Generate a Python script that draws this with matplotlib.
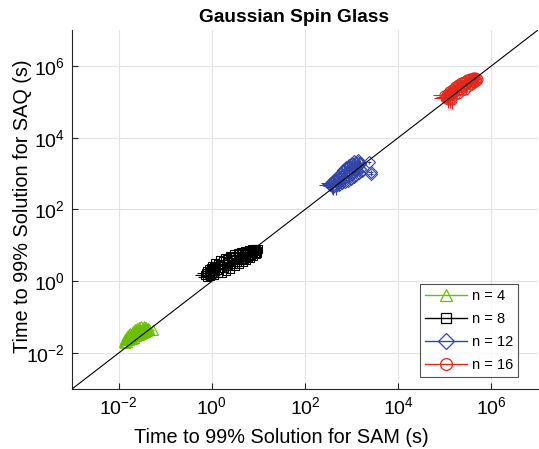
import numpy as np
import matplotlib
matplotlib.use("Agg")
import matplotlib.pyplot as plt
from matplotlib.lines import Line2D
from matplotlib.ticker import NullLocator

plt.rcParams['font.family'] = ['Liberation Sans', 'DejaVu Sans']
plt.rcParams['mathtext.fontset'] = 'custom'
plt.rcParams['mathtext.rm'] = 'Liberation Sans'
plt.rcParams['mathtext.it'] = 'Liberation Sans:italic'
plt.rcParams['mathtext.bf'] = 'Liberation Sans:bold'

# time to 99% solution (s): SAM on x, SAQ on y, one cloud per problem size
# n = 4
x4 = [0.0135, 0.015, 0.0165, 0.018, 0.020, 0.022, 0.025, 0.028, 0.031, 0.035, 0.039,
      0.013, 0.0145, 0.016, 0.018, 0.020, 0.022, 0.025, 0.028, 0.031, 0.035, 0.040, 0.044,
      0.0135, 0.015, 0.017, 0.019, 0.021, 0.024, 0.027, 0.030, 0.033, 0.037, 0.041,
      0.055]
y4 = [0.025, 0.029, 0.033, 0.037, 0.041, 0.046, 0.050, 0.053, 0.056, 0.057, 0.055,
      0.021, 0.024, 0.027, 0.030, 0.033, 0.036, 0.039, 0.042, 0.045, 0.047, 0.048, 0.047,
      0.019, 0.021, 0.023, 0.025, 0.027, 0.029, 0.031, 0.034, 0.036, 0.039, 0.041,
      0.045]
ex4 = 0.05
ey4 = 0.05
x4b = [0.014, 0.0155, 0.017, 0.019, 0.021, 0.0235, 0.0265, 0.0295, 0.033, 0.037, 0.042,
       0.014, 0.0155, 0.0175, 0.0195, 0.0215, 0.0235, 0.026, 0.029, 0.032, 0.036, 0.040]
y4b = [0.023, 0.026, 0.030, 0.033, 0.037, 0.041, 0.045, 0.048, 0.051, 0.052, 0.051,
       0.020, 0.0225, 0.025, 0.0275, 0.030, 0.032, 0.035, 0.038, 0.040, 0.043, 0.045]

# n = 8
x8 = [0.85, 1.0, 1.2, 1.5, 1.9, 2.4, 3.0, 3.6, 4.3, 5.2, 6.2, 7.3, 8.5,
      0.75, 0.9, 1.05, 1.25, 1.5, 1.8, 2.2, 2.7, 3.2, 3.8, 4.5, 5.4, 6.4, 7.6, 9.0, 9.8,
      0.9, 1.1, 1.35, 1.65, 2.0, 2.5, 3.1, 3.8, 4.6, 5.5, 6.5, 7.6, 8.8, 9.5,
      0.72, 0.78]
y8 = [2.2, 2.7, 3.3, 3.8, 4.4, 5.0, 5.6, 6.1, 6.6, 7.0, 7.4, 7.8, 8.0,
      1.7, 1.9, 2.2, 2.5, 2.8, 3.1, 3.5, 3.9, 4.3, 4.7, 5.1, 5.6, 6.1, 6.7, 7.3, 7.9,
      1.4, 1.5, 1.65, 1.75, 1.95, 2.25, 2.6, 3.0, 3.4, 3.8, 4.4, 5.0, 5.6, 6.3,
      1.5, 1.3]
ex8 = [0.10, 0.06, 0.06, 0.06, 0.06, 0.06, 0.06, 0.06, 0.06, 0.06, 0.06, 0.06, 0.06,
       0.35, 0.30, 0.06, 0.06, 0.06, 0.06, 0.06, 0.06, 0.06, 0.06, 0.06, 0.06, 0.06, 0.06, 0.08, 0.08,
       0.30, 0.06, 0.06, 0.06, 0.06, 0.06, 0.06, 0.06, 0.06, 0.06, 0.06, 0.06, 0.06, 0.08,
       0.40, 0.35]
ey8 = [0.06, 0.06, 0.06, 0.06, 0.06, 0.06, 0.06, 0.06, 0.06, 0.06, 0.06, 0.06, 0.06,
       0.08, 0.06, 0.06, 0.06, 0.06, 0.06, 0.06, 0.06, 0.06, 0.06, 0.06, 0.06, 0.06, 0.06, 0.06, 0.06,
       0.10, 0.06, 0.06, 0.06, 0.06, 0.06, 0.06, 0.06, 0.06, 0.06, 0.06, 0.06, 0.06, 0.06,
       0.08, 0.10]
x8b = [0.8, 0.95, 1.1, 1.35, 1.7, 2.1, 2.6, 3.2, 3.9, 4.8, 5.8, 6.9, 8.2,
       0.85, 1.0, 1.2, 1.45, 1.8, 2.2, 2.8, 3.4, 4.2, 5.0, 6.0, 7.1, 8.3, 9.4]
y8b = [1.95, 2.3, 2.7, 3.1, 3.6, 4.1, 4.7, 5.2, 5.7, 6.1, 6.6, 7.1, 7.6,
       1.55, 1.7, 1.9, 2.1, 2.35, 2.65, 3.0, 3.4, 3.8, 4.3, 4.8, 5.4, 6.0, 6.8]

# n = 12
x12 = [420, 500, 580, 660, 760, 880, 1000, 1150, 1350,
       350, 400, 460, 530, 600, 680, 780, 900, 1030, 1180, 1350, 1550,
       400, 460, 530, 620, 720, 830, 950, 1100, 1250, 1450, 1700,
       2400, 2550, 2600,
       340, 360, 380]
y12 = [650, 800, 1000, 1250, 1500, 1750, 2000, 2250, 2400,
       520, 600, 680, 760, 850, 960, 1080, 1200, 1350, 1500, 1650, 1800,
       420, 450, 490, 530, 580, 640, 720, 820, 930, 1050, 1150,
       2100, 1100, 950,
       480, 560, 440]
ex12 = [0.10, 0.10, 0.10, 0.10, 0.10, 0.10, 0.10, 0.10, 0.10,
        0.35, 0.30, 0.10, 0.10, 0.10, 0.10, 0.10, 0.10, 0.10, 0.10, 0.10, 0.10,
        0.30, 0.10, 0.10, 0.10, 0.10, 0.10, 0.10, 0.10, 0.10, 0.10, 0.10,
        0.10, 0.12, 0.12,
        0.40, 0.40, 0.35]
ey12 = [0.10, 0.10, 0.10, 0.10, 0.10, 0.10, 0.10, 0.10, 0.10,
        0.10, 0.10, 0.10, 0.10, 0.10, 0.10, 0.10, 0.10, 0.10, 0.10, 0.10, 0.10,
        0.40, 0.45, 0.35, 0.10, 0.10, 0.10, 0.10, 0.10, 0.10, 0.10, 0.10,
        0.10, 0.12, 0.12,
        0.10, 0.10, 0.40]
x12b = [380, 450, 520, 600, 690, 790, 900, 1030, 1180, 1350, 1550,
        430, 500, 580, 660, 760, 870, 1000, 1150, 1300, 1500]
y12b = [580, 700, 850, 1050, 1250, 1450, 1650, 1850, 2000, 2100, 2000,
        480, 540, 610, 690, 780, 880, 990, 1100, 1220, 1350]

# n = 16
x16 = [1.1e5, 1.25e5, 1.45e5, 1.65e5, 1.9e5, 2.2e5, 2.6e5, 3.0e5, 3.5e5, 4.1e5,
       1.0e5, 1.15e5, 1.3e5, 1.5e5, 1.75e5, 2.0e5, 2.3e5, 2.7e5, 3.1e5, 3.6e5, 4.2e5, 4.8e5,
       1.2e5, 1.4e5, 1.65e5, 1.95e5, 2.3e5, 2.7e5, 3.2e5, 3.7e5, 4.3e5, 5.0e5,
       9.5e4, 1.0e5, 1.3e5, 1.4e5]
y16 = [1.7e5, 1.95e5, 2.3e5, 2.7e5, 3.1e5, 3.5e5, 3.9e5, 4.3e5, 4.7e5, 5.0e5,
       1.4e5, 1.55e5, 1.7e5, 1.95e5, 2.25e5, 2.55e5, 2.85e5, 3.2e5, 3.55e5, 3.9e5, 4.3e5, 4.6e5,
       1.15e5, 1.3e5, 1.5e5, 1.7e5, 1.95e5, 2.2e5, 2.55e5, 2.9e5, 3.3e5, 3.8e5,
       1.5e5, 1.25e5, 1.1e5, 1.15e5]
ex16 = [0.10, 0.10, 0.10, 0.10, 0.10, 0.10, 0.10, 0.10, 0.10, 0.10,
        0.35, 0.30, 0.10, 0.10, 0.10, 0.10, 0.10, 0.10, 0.10, 0.10, 0.10, 0.10,
        0.10, 0.10, 0.10, 0.10, 0.10, 0.10, 0.10, 0.10, 0.10, 0.10,
        0.40, 0.40, 0.10, 0.10]
ey16 = [0.10, 0.10, 0.10, 0.10, 0.10, 0.10, 0.10, 0.10, 0.10, 0.10,
        0.10, 0.10, 0.10, 0.10, 0.10, 0.10, 0.10, 0.10, 0.10, 0.10, 0.10, 0.10,
        0.40, 0.35, 0.10, 0.10, 0.10, 0.10, 0.10, 0.10, 0.10, 0.10,
        0.10, 0.10, 0.40, 0.45]
x16b = [1.05e5, 1.2e5, 1.4e5, 1.6e5, 1.85e5, 2.15e5, 2.5e5, 2.9e5, 3.35e5, 3.9e5, 4.5e5,
        1.1e5, 1.3e5, 1.5e5, 1.8e5, 2.1e5, 2.5e5, 2.9e5, 3.4e5, 4.0e5, 4.6e5, 5.2e5]
y16b = [1.55e5, 1.75e5, 2.05e5, 2.4e5, 2.75e5, 3.15e5, 3.55e5, 3.95e5, 4.3e5, 4.6e5, 4.8e5,
        1.25e5, 1.45e5, 1.65e5, 1.95e5, 2.2e5, 2.5e5, 2.85e5, 3.2e5, 3.6e5, 4.0e5, 4.4e5]

series = [
    ("n = 4", [(x4, y4, ex4, ey4), (x4b, y4b, 0.05, 0.05)], "^", "#6cbf00"),
    ("n = 8", [(x8, y8, ex8, ey8), (x8b, y8b, 0.06, 0.06)], "s", "#000000"),
    ("n = 12", [(x12, y12, ex12, ey12), (x12b, y12b, 0.10, 0.10)], "D", "#3345a6"),
    ("n = 16", [(x16, y16, ex16, ey16), (x16b, y16b, 0.10, 0.10)], "o", "#e2281c"),
]
marker_size = {"^": 6.5, "s": 5.5, "D": 6.0, "o": 6.5}

fig = plt.figure(figsize=(5.39, 4.49), dpi=100)
ax = fig.add_axes([72 / 539, 60 / 449, 466 / 539, 359 / 449])

handles = []
for label, groups, mk, col in series:
    for x, y, ex, ey in groups:
        x = np.array(x)
        y = np.array(y)
        ax.errorbar(x, y, xerr=x * np.array(ex), yerr=y * np.array(ey),
                    fmt=mk, ms=marker_size[mk], mfc="none", mec=col, mew=0.8,
                    ecolor=col, elinewidth=0.8, capsize=0, zorder=3)
    handles.append(Line2D([], [], color=col, lw=1.0, marker=mk,
                          ms=marker_size[mk] + 2, mfc="none", mec=col, mew=0.9))

# y = x reference line
ax.plot([1e-3, 1e7], [1e-3, 1e7], color="k", lw=0.8, zorder=4)

ax.set_xscale("log")
ax.set_yscale("log")
ax.set_xlim(1e-3, 1e7)
ax.set_ylim(1e-3, 1e7)
ticks = [1e-2, 1e0, 1e2, 1e4, 1e6]
ax.set_xticks(ticks)
ax.set_yticks(ticks)
ax.xaxis.set_minor_locator(NullLocator())
ax.yaxis.set_minor_locator(NullLocator())
ax.tick_params(direction="in", length=4, width=0.8, labelsize=14, pad=5,
               colors="#262626", labelcolor="#000000")
ax.grid(True, color="#e3e3e3", lw=0.8, zorder=0)
ax.set_axisbelow(True)
for side in ("top", "right"):
    ax.spines[side].set_visible(False)
for side in ("left", "bottom"):
    ax.spines[side].set_color("#262626")
    ax.spines[side].set_linewidth(0.8)

ax.set_title("Gaussian Spin Glass", fontsize=13.8, fontweight="bold", x=0.476, pad=6)
ax.set_xlabel("Time to 99% Solution for SAM (s)", fontsize=14.3)
ax.set_ylabel("Time to 99% Solution for SAQ (s)", fontsize=14.3)
ax.xaxis.set_label_coords(0.449, -0.108)
ax.yaxis.set_label_coords(-0.085, 0.51)

leg = ax.legend(handles, [s[0] for s in series], loc="lower right",
                bbox_to_anchor=(0.957, 0.033), borderaxespad=0, fontsize=10.5,
                frameon=True, fancybox=False, edgecolor="#262626",
                handlelength=2.9, borderpad=0.35, labelspacing=0.62, handletextpad=0.3)
leg.get_frame().set_linewidth(0.8)

fig.savefig("out.png", dpi=100)
